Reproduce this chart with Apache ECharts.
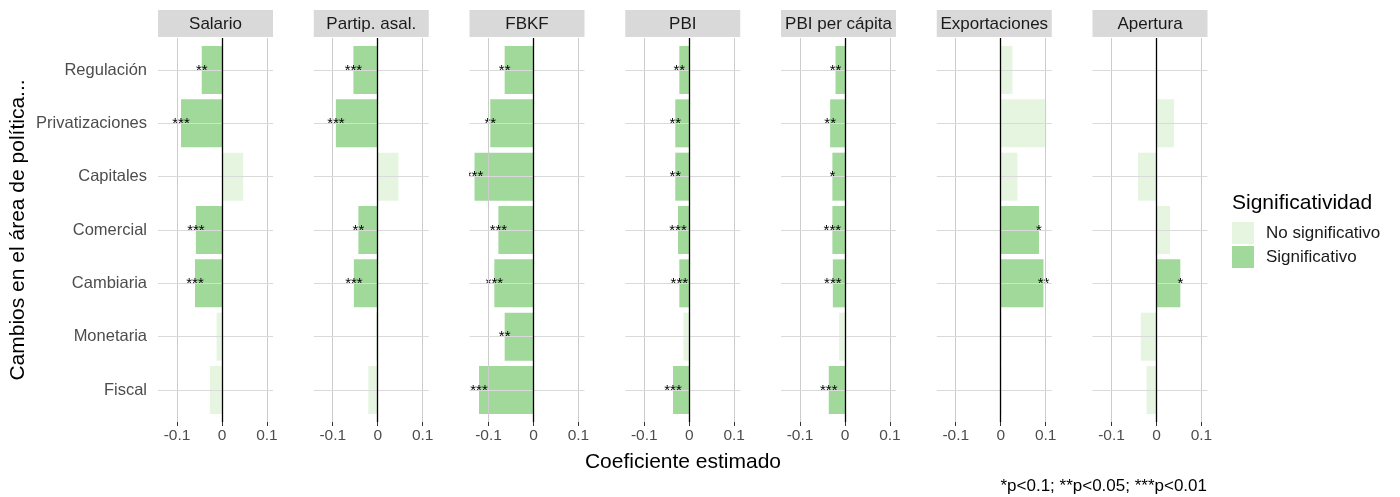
<!DOCTYPE html>
<html>
<head>
<meta charset="utf-8">
<title>Coeficiente estimado por área de política</title>
<script src="https://cdn.jsdelivr.net/npm/echarts@6/dist/echarts.min.js"></script>
<style>
  html, body { margin: 0; padding: 0; background: #ffffff; }
  #chart { width: 1400px; height: 497px; }
</style>
</head>
<body>
<div id="chart"></div>
<script>
// Policy areas (rows, top to bottom) and outcome panels (left to right)
const categories = ['Regulación', 'Privatizaciones', 'Capitales', 'Comercial', 'Cambiaria', 'Monetaria', 'Fiscal'];
const facets = ['Salario', 'Partip. asal.', 'FBKF', 'PBI', 'PBI per cápita', 'Exportaciones', 'Apertura'];

// Estimated coefficients per panel, in the order of `categories`
const salario      = [-0.045, -0.091,  0.047, -0.058, -0.060, -0.012, -0.027];
const partipAsal   = [-0.054, -0.093,  0.046, -0.043, -0.053, -0.004, -0.021];
const fbkf         = [-0.064, -0.096, -0.131, -0.078, -0.087, -0.064, -0.121];
const pbi          = [-0.022, -0.031, -0.031, -0.025, -0.022, -0.013, -0.036];
const pbiPerCapita = [-0.021, -0.033, -0.028, -0.028, -0.027, -0.013, -0.036];
const exportaciones = [0.026,  0.101,  0.037,  0.085,  0.095,  0.002,  0.002];
const apertura     = [ 0.001,  0.039, -0.041,  0.030,  0.053, -0.035, -0.022];

// Significance stars per panel (empty string = not significant)
const salarioStars       = ['**', '***', '', '***', '***', '', ''];
const partipAsalStars    = ['***', '***', '', '**', '***', '', ''];
const fbkfStars          = ['**', '**', '***', '***', '***', '**', '***'];
const pbiStars           = ['**', '**', '**', '***', '***', '', '***'];
const pbiPerCapitaStars  = ['**', '**', '*', '***', '***', '', '***'];
const exportacionesStars = ['', '', '', '*', '**', '', ''];
const aperturaStars      = ['', '', '', '', '*', '', ''];

const xTicks = [-0.1, 0, 0.1];
const legendNames = ['No significativo', 'Significativo'];

const panelValues = [salario, partipAsal, fbkf, pbi, pbiPerCapita, exportaciones, apertura];
const panelStars = [salarioStars, partipAsalStars, fbkfStars, pbiStars, pbiPerCapitaStars, exportacionesStars, aperturaStars];

// Layout
const FONT = '"Liberation Sans", Arial, sans-serif';
const GRID_LEFT0 = 158, GRID_STEP = 155.75, GRID_W = 115, GRID_TOP = 38, GRID_H = 384;
const X_MIN = -0.1422, X_MAX = 0.1134;
const Y_MIN = 0.4, Y_MAX = 7.6;
const BAR_HALF = 0.45;
const COLOR_SIG = '#a1d99b', COLOR_NS = '#e5f5e0';
const rowPositions = categories.map((_, i) => i + 1);

function makeRenderer(stars) {
  return function (params, api) {
    const y = api.value(0), v = api.value(1);
    const a = api.coord([0, y - BAR_HALF]);
    const b = api.coord([v, y + BAR_HALF]);
    const children = [{
      type: 'rect',
      shape: {
        x: Math.min(a[0], b[0]), y: Math.min(a[1], b[1]),
        width: Math.abs(b[0] - a[0]), height: Math.abs(b[1] - a[1])
      },
      style: { fill: api.visual('color') }
    }];
    const s = stars[params.dataIndex];
    if (s) {
      const c = api.coord([v, y]);
      children.push({
        type: 'text', x: c[0], y: c[1] + 0.5,
        style: { text: s, fill: '#000000', font: '15px ' + FONT, align: 'center', verticalAlign: 'middle' }
      });
    }
    return { type: 'group', children: children };
  };
}

const grids = [], xAxes = [], yAxes = [], series = [], graphics = [];

facets.forEach((facet, p) => {
  const left = GRID_LEFT0 + p * GRID_STEP;
  grids.push({ left: left, top: GRID_TOP, width: GRID_W, height: GRID_H, containLabel: false });

  xAxes.push({
    type: 'value', gridIndex: p, min: X_MIN, max: X_MAX,
    axisLine: { show: false }, splitLine: { show: false },
    axisTick: { show: true, customValues: xTicks, length: 4, lineStyle: { color: '#333333', width: 1 } },
    axisLabel: {
      customValues: xTicks, margin: 6, fontSize: 15.5, color: '#4d4d4d', fontFamily: FONT,
      formatter: v => (v === 0 ? '0' : String(v))
    }
  });

  yAxes.push({
    type: 'value', gridIndex: p, min: Y_MIN, max: Y_MAX, inverse: true,
    axisLine: { show: false }, splitLine: { show: false },
    axisTick: { show: p === 0, customValues: rowPositions, length: 4.5, lineStyle: { color: '#333333', width: 1 } },
    axisLabel: {
      show: p === 0, customValues: rowPositions, margin: 11, fontSize: 16.5, color: '#4d4d4d', fontFamily: FONT,
      formatter: v => categories[Math.round(v) - 1] || ''
    }
  });

  // Panel grid lines
  series.push({
    type: 'line', xAxisIndex: p, yAxisIndex: p, data: [], silent: true, z: 1,
    markLine: {
      silent: true, symbol: ['none', 'none'], label: { show: false }, animation: false,
      data: [
        ...xTicks.filter(v => v !== 0).map(v => ({ xAxis: v, lineStyle: { color: '#cccccc', width: 1, type: 'solid' } })),
        ...rowPositions.map(v => ({ yAxis: v, lineStyle: { color: '#dadada', width: 1, type: 'solid' } }))
      ]
    }
  });

  // Bars split by significance
  const vals = panelValues[p], st = panelStars[p];
  [false, true].forEach(sig => {
    const data = [], stars = [];
    vals.forEach((v, i) => {
      if ((st[i] !== '') === sig) { data.push([i + 1, v]); stars.push(st[i]); }
    });
    series.push({
      type: 'custom', name: sig ? legendNames[1] : legendNames[0],
      xAxisIndex: p, yAxisIndex: p, clip: true, z: 2, silent: true,
      itemStyle: { color: sig ? COLOR_SIG : COLOR_NS },
      renderItem: makeRenderer(stars),
      encode: { x: 1, y: 0 },
      data: data
    });
  });

  // Reference line at zero
  series.push({
    type: 'line', xAxisIndex: p, yAxisIndex: p, data: [], silent: true, z: 5,
    markLine: {
      silent: true, symbol: ['none', 'none'], label: { show: false }, animation: false,
      data: [{ xAxis: 0, lineStyle: { color: '#000000', width: 1.3, type: 'solid' } }]
    }
  });

  // Panel strip
  graphics.push({
    type: 'group', left: left, top: 10,
    children: [
      { type: 'rect', shape: { x: 0, y: 0, width: GRID_W, height: 27 }, style: { fill: '#d9d9d9' } },
      { type: 'text', x: GRID_W / 2, y: 14, style: { text: facet, fill: '#1a1a1a', font: '17px ' + FONT, align: 'center', verticalAlign: 'middle' } }
    ]
  });
});

// Axis titles, legend title and caption
graphics.push(
  { type: 'text', x: 18, y: 230, rotation: Math.PI / 2,
    style: { text: 'Cambios en el área de política...', fill: '#000000', font: '21px ' + FONT, align: 'center', verticalAlign: 'middle' } },
  { type: 'text', x: 683, y: 462,
    style: { text: 'Coeficiente estimado', fill: '#000000', font: '21px ' + FONT, align: 'center', verticalAlign: 'middle' } },
  { type: 'text', x: 1232, y: 203,
    style: { text: 'Significatividad', fill: '#000000', font: '21px ' + FONT, align: 'left', verticalAlign: 'middle' } },
  { type: 'text', x: 1207, y: 486,
    style: { text: '*p<0.1; **p<0.05; ***p<0.01', fill: '#000000', font: '17px ' + FONT, align: 'right', verticalAlign: 'middle' } }
);

const chart = echarts.init(document.getElementById('chart'), null, { renderer: 'canvas' });
chart.setOption({
  backgroundColor: '#ffffff',
  animation: false,
  textStyle: { fontFamily: FONT },
  grid: grids,
  xAxis: xAxes,
  yAxis: yAxes,
  legend: {
    data: legendNames, orient: 'vertical', left: 1232, top: 222, padding: 0,
    itemWidth: 22, itemHeight: 22, itemGap: 2, icon: 'rect', selectedMode: false,
    textStyle: { fontSize: 17, color: '#1a1a1a', fontFamily: FONT, padding: [0, 0, 0, 7] }
  },
  graphic: graphics,
  series: series
});
</script>
</body>
</html>
